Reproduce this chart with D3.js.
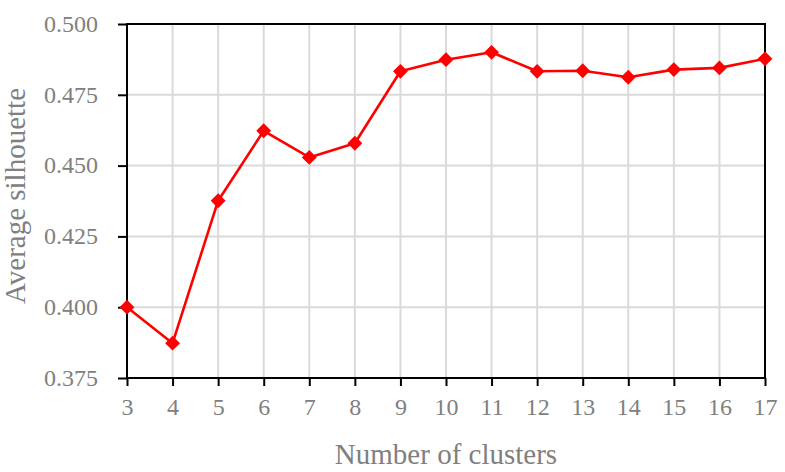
<!DOCTYPE html>
<html>
<head>
<meta charset="utf-8">
<script src="https://cdn.jsdelivr.net/npm/d3@7"></script>
<style>
    html, body { margin: 0; padding: 0; background: #fff; }
    svg { display: block; }
</style>
</head>
<body>
<svg id="chart" width="785" height="472"></svg>
<script>
var clusters = [3, 4, 5, 6, 7, 8, 9, 10, 11, 12, 13, 14, 15, 16, 17];
var silhouette = [0.4000, 0.3873, 0.4376, 0.4623, 0.4529, 0.4579, 0.4833, 0.4874,
                  0.4900, 0.4833, 0.4835, 0.4812, 0.4839, 0.4845, 0.4877];
var yTicks = [0.375, 0.400, 0.425, 0.450, 0.475, 0.500];
var xLabel = 'Number of clusters';
var yLabel = 'Average silhouette';

(function(){
    var W = 785, H = 472;
    var m = {left: 127, right: 20, top: 24, bottom: 94};

    var grey = '#808080',
        red = '#ff0000',
        grid = '#dadada',
        font = '"Liberation Serif", "DejaVu Serif", serif';

    var svg = d3.select('#chart');

    var x = d3.scaleLinear()
        .domain([d3.min(clusters), d3.max(clusters)])
        .range([m.left, W - m.right]);
    var y = d3.scaleLinear()
        .domain([d3.min(yTicks), d3.max(yTicks)])
        .range([H - m.bottom, m.top]);

    // grid
    svg.append('g').selectAll('line.vg')
        .data(clusters)
        .enter().append('line')
        .attr('x1', function(d){ return x(d) }).attr('x2', function(d){ return x(d) })
        .attr('y1', y.range()[0]).attr('y2', y.range()[1])
        .style('stroke', grid).style('stroke-width', 2);
    svg.append('g').selectAll('line.hg')
        .data(yTicks)
        .enter().append('line')
        .attr('y1', function(d){ return y(d) }).attr('y2', function(d){ return y(d) })
        .attr('x1', x.range()[0]).attr('x2', x.range()[1])
        .style('stroke', grid).style('stroke-width', 2);

    // axes
    var xAxis = d3.axisBottom(x)
        .tickValues(clusters)
        .tickFormat(d3.format('d'))
        .tickSize(8).tickSizeOuter(0).tickPadding(12);
    var yAxis = d3.axisLeft(y)
        .tickValues(yTicks)
        .tickFormat(d3.format('.3f'))
        .tickSize(9).tickSizeOuter(0).tickPadding(20);

    var gx = svg.append('g')
        .attr('transform', 'translate(0,' + y.range()[0] + ')')
        .call(xAxis);
    var gy = svg.append('g')
        .attr('transform', 'translate(' + x.range()[0] + ',0)')
        .call(yAxis);

    [gx, gy].forEach(function(g){
        g.select('.domain').remove();
        g.selectAll('.tick line').style('stroke', '#000').style('stroke-width', 2);
        g.selectAll('.tick text')
            .style('fill', grey)
            .style('font-family', font)
            .style('font-size', '24px');
    });
    gx.selectAll('.tick text').attr('dy', '0.71em');
    gy.selectAll('.tick text').attr('dy', '0.3em');

    // frame
    svg.append('rect')
        .attr('x', x.range()[0]).attr('y', y.range()[1])
        .attr('width', x.range()[1] - x.range()[0])
        .attr('height', y.range()[0] - y.range()[1])
        .style('fill', 'none')
        .style('stroke', '#000')
        .style('stroke-width', 2);

    // series
    var pts = clusters.map(function(c, i){ return {c: c, v: silhouette[i]} });

    svg.append('path')
        .datum(pts)
        .attr('d', d3.line()
            .x(function(d){ return x(d.c) })
            .y(function(d){ return y(d.v) }))
        .style('fill', 'none')
        .style('stroke', red)
        .style('stroke-width', 2.6)
        .style('stroke-linejoin', 'round');

    svg.append('g').selectAll('path')
        .data(pts)
        .enter().append('path')
        .attr('d', d3.symbol().type(d3.symbolSquare).size(110))
        .attr('transform', function(d){
            return 'translate(' + x(d.c) + ',' + y(d.v) + ') rotate(45)';
        })
        .style('fill', red);

    // titles
    svg.append('text')
        .attr('x', (x.range()[0] + x.range()[1]) / 2)
        .attr('y', 464)
        .attr('text-anchor', 'middle')
        .style('fill', grey)
        .style('font-family', font)
        .style('font-size', '29px')
        .text(xLabel);

    svg.append('text')
        .attr('transform', 'translate(25,' + ((y.range()[0] + y.range()[1]) / 2 - 5) + ') rotate(-90)')
        .attr('text-anchor', 'middle')
        .style('fill', grey)
        .style('font-family', font)
        .style('font-size', '29px')
        .text(yLabel);
})();
</script>
</body>
</html>
